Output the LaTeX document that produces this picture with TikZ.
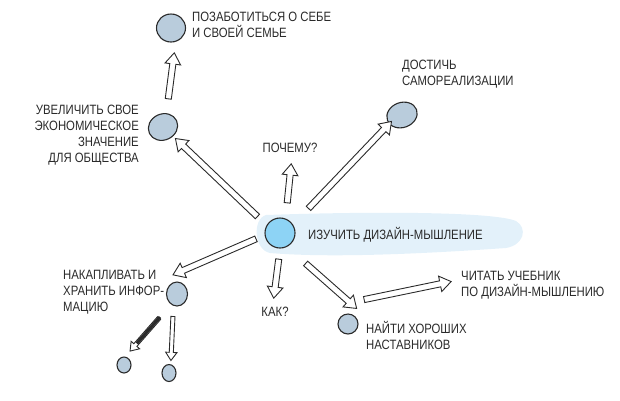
\documentclass[tikz,border=0pt]{standalone}
\usepackage{fontspec}
\setmainfont{Liberation Sans}[FakeStretch=0.84]
\usetikzlibrary{shapes.arrows,shapes.geometric,calc}
\definecolor{ink}{HTML}{2A2A2A}
\definecolor{dotfill}{HTML}{B9CCDC}
\definecolor{hubfill}{HTML}{8DD3F5}
\definecolor{bandfill}{HTML}{E3F1FA}
\tikzset{
  lbl/.style={font=\fontsize{13.5}{16}\selectfont, text=ink, inner sep=0pt},
  dot/.style={ellipse, draw=ink, fill=dotfill, line width=1.1pt, inner sep=0pt},
  hub/.style={ellipse, draw=ink, fill=hubfill, line width=1.1pt, inner sep=0pt},
  harrow/.style={single arrow, draw=ink, fill=white, line width=0.9pt, inner xsep=0pt, inner ysep=2.6pt,
    minimum width=0pt, single arrow head extend=4.8pt, single arrow tip angle=70},
  thinarrow/.style={inner ysep=1.6pt, single arrow head extend=3.6pt}
}
\newcommand\hollowarrow[3][]{%
  \path let \p1=(#2), \p2=(#3), \n1={atan2(\y2-\y1,\x2-\x1)}, \n2={veclen(\x2-\x1,\y2-\y1)} in
    node[harrow, rotate=\n1, minimum height=\n2, #1] at ($(\p1)!0.5!(\p2)$) {};}
\begin{document}
\begin{tikzpicture}[x=1pt,y=-1pt]
\useasboundingbox (0,0) rectangle (620,400);
% highlight band
\fill[bandfill] (266,215) .. controls (380,211) and (495,212) .. (516,221)
  .. controls (528,228) and (524,245) .. (506,248)
  .. controls (420,254) and (330,258) .. (270,253)
  .. controls (254,250) and (252,219) .. (266,215) -- cycle;
% circles
\node[hub, minimum width=30pt, minimum height=30pt] (hub) at (280,233) {};
\node[dot, minimum width=29pt, minimum height=28pt] (care) at (171,28) {};
\node[dot, minimum width=30pt, minimum height=26pt, rotate=25] (econ) at (163,127) {};
\node[dot, minimum width=31pt, minimum height=25pt, rotate=20] (self) at (402,115) {};
\node[dot, minimum width=21pt, minimum height=24pt] (store) at (177,294) {};
\node[dot, minimum width=14pt, minimum height=16pt] (leafA) at (124,365) {};
\node[dot, minimum width=14pt, minimum height=17pt] (leafB) at (169,373) {};
\node[dot, minimum width=20pt, minimum height=20pt] (mentor) at (348,324) {};
% labels
\node[lbl, anchor=north west, align=left] (tcare) at (192,12) {ПОЗАБОТИТЬСЯ О СЕБЕ\\И СВОЕЙ СЕМЬЕ};
\node[lbl, anchor=north east, align=right] (tecon) at (139,105) {УВЕЛИЧИТЬ СВОЕ\\ЭКОНОМИЧЕСКОЕ\\ЗНАЧЕНИЕ\\ДЛЯ ОБЩЕСТВА};
\node[lbl, anchor=north west, align=left] (tself) at (402,60) {ДОСТИЧЬ\\САМОРЕАЛИЗАЦИИ};
\node[lbl, anchor=north] (twhy) at (290,143) {ПОЧЕМУ?};
\node[lbl, anchor=north west] (thub) at (308,227) {ИЗУЧИТЬ ДИЗАЙН-МЫШЛЕНИЕ};
\node[lbl, anchor=north west, align=left] (tstore) at (63,270) {НАКАПЛИВАТЬ И\\ХРАНИТЬ ИНФОР-\\МАЦИЮ};
\node[lbl, anchor=north] (thow) at (275,307) {КАК?};
\node[lbl, anchor=north west, align=left] (tmentor) at (366,321) {НАЙТИ ХОРОШИХ\\НАСТАВНИКОВ};
\node[lbl, anchor=north west, align=left] (tbook) at (461,271) {ЧИТАТЬ УЧЕБНИК\\ПО ДИЗАЙН-МЫШЛЕНИЮ};
% arrow end points
\coordinate (a1s) at (259,218); \coordinate (a1e) at (177,140);
\coordinate (a2s) at (168,101); \coordinate (a2e) at (174,55);
\coordinate (a3s) at (287,205); \coordinate (a3e) at (291,166);
\coordinate (a4s) at (307,210); \coordinate (a4e) at (390,123);
\coordinate (a5s) at (258,238); \coordinate (a5e) at (175,274);
\coordinate (a6s) at (279,257); \coordinate (a6e) at (274,296);
\coordinate (a7s) at (304,262); \coordinate (a7e) at (355,307);
\coordinate (a8s) at (362,300); \coordinate (a8e) at (449,282);
\coordinate (a9s) at (160,317); \coordinate (a9e) at (131,350);
\coordinate (a10s) at (173,315); \coordinate (a10e) at (171,359);
% arrows
\hollowarrow{a1s}{a1e}
\hollowarrow{a2s}{a2e}
\hollowarrow{a3s}{a3e}
\hollowarrow{a4s}{a4e}
\hollowarrow{a5s}{a5e}
\hollowarrow{a6s}{a6e}
\hollowarrow{a7s}{a7e}
\hollowarrow{a8s}{a8e}
\hollowarrow[thinarrow]{a9s}{a9e}
\draw[ink, line width=3.2pt] (a9s) -- ($(a9s)!0.8!(a9e)$);
\hollowarrow[thinarrow]{a10s}{a10e}
\end{tikzpicture}
\end{document}
